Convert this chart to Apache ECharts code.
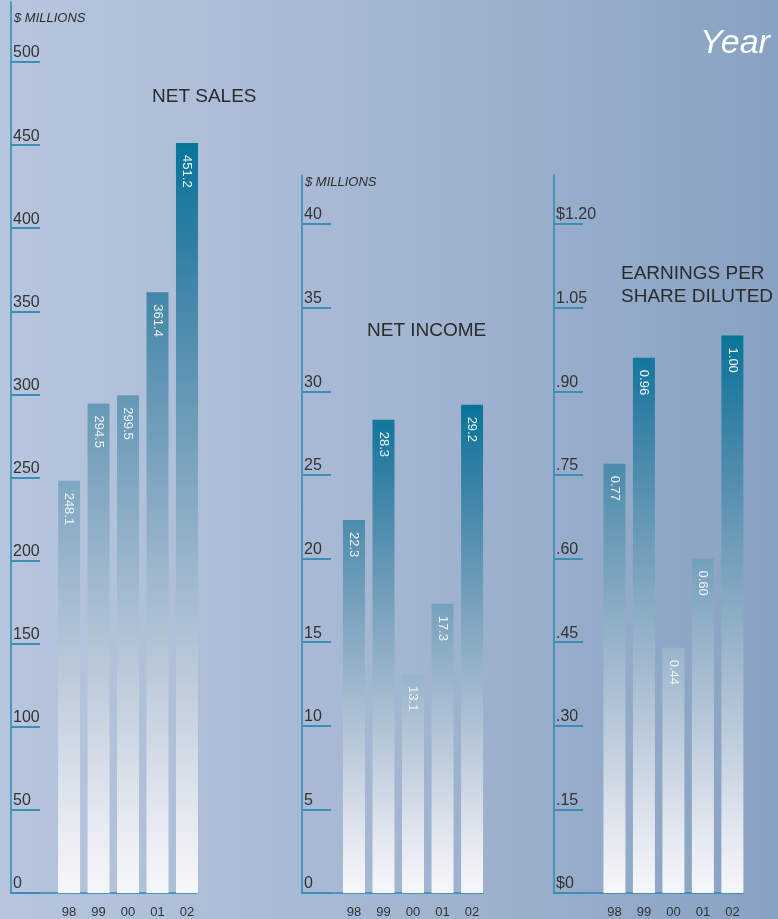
<!DOCTYPE html>
<html>
<head>
<meta charset="utf-8">
<script src="https://cdn.jsdelivr.net/npm/echarts@6/dist/echarts.min.js"></script>
<style>
  html, body { margin: 0; padding: 0; }
  #main {
    width: 778px; height: 919px;
    background: linear-gradient(to right, #b7c6de 0%, #a6b8d3 45%, #88a2c3 100%);
  }
</style>
</head>
<body>
<div id="main"></div>
<script>
// data
const years = ['98', '99', '00', '01', '02'];
const netSales = [248.1, 294.5, 299.5, 361.4, 451.2];
const netIncome = [22.3, 28.3, 13.1, 17.3, 29.2];
const eps = [0.77, 0.96, 0.44, 0.60, 1.00];

const salesTicks = [0, 50, 100, 150, 200, 250, 300, 350, 400, 450, 500];
const incomeTicks = [0, 5, 10, 15, 20, 25, 30, 35, 40];
const epsTicks = [0, 0.15, 0.30, 0.45, 0.60, 0.75, 0.90, 1.05, 1.20];
const epsTickLabels = ['$0', '.15', '.30', '.45', '.60', '.75', '.90', '1.05', '$1.20'];

// teal -> white ramp, index 0 = bottom, 10 = top of the tallest bar
const ramp = ['#f6f7fa', '#e5e9f0', '#cfd9e4', '#b9c9d9', '#a3bacf', '#8cadc6',
  '#74a0bc', '#5c93b2', '#4387a9', '#267ca1', '#077598'];

const AXIS = '#2a8ab2';
const TICK = '#3a8fba';
const TXT = '#333';
const FONT = '"Liberation Sans", Arial, sans-serif';

function barColor(v, max) {
  const r = v / max;
  const stops = [{offset: 0, color: echarts.color.lerp(r, ramp)}];
  for (let k = 10; k >= 0; k--) {
    const g = k / 10;
    if (g < r) stops.push({offset: 1 - g / r, color: ramp[k]});
  }
  return new echarts.graphic.LinearGradient(0, 0, 0, 1, stops);
}

function barData(values) {
  const max = Math.max(...values);
  return values.map((v, i) => ({value: [i, v], itemStyle: {color: barColor(v, max)}}));
}

function yAxis(idx, max, ticks, fmt) {
  return {
    type: 'value', gridIndex: idx, min: 0, max: max,
    axisLine: {show: true, onZero: false, lineStyle: {color: AXIS, width: 1.5}},
    axisTick: {show: true, inside: true, length: 29, customValues: ticks,
      lineStyle: {color: TICK, width: 2}},
    axisLabel: {inside: true, margin: 2, customValues: ticks, formatter: fmt,
      color: TXT, fontSize: 16, fontFamily: FONT,
      verticalAlign: 'bottom', lineHeight: 18},
    splitLine: {show: false}
  };
}

function xAxis(idx, min, max) {
  return {
    type: 'value', gridIndex: idx, min: min, max: max,
    axisLine: {show: true, onZero: false, lineStyle: {color: AXIS, width: 1.5}},
    axisTick: {show: false},
    axisLabel: {customValues: [0, 1, 2, 3, 4], formatter: v => years[v],
      color: TXT, fontSize: 13, fontFamily: FONT, margin: 13},
    splitLine: {show: false}
  };
}

function barSeries(idx, values, dec) {
  return {
    type: 'bar', xAxisIndex: idx, yAxisIndex: idx,
    barWidth: 22,
    data: barData(values),
    label: {
      show: true, position: 'insideTop', distance: 12, rotate: -90,
      align: 'left', verticalAlign: 'middle',
      color: '#eef3f7', fontSize: 13, fontFamily: FONT,
      formatter: p => p.value[1].toFixed(dec)
    }
  };
}

const titleBase = {padding: 0, textStyle: {color: '#2b2b2b', fontFamily: FONT, fontWeight: 'normal'}};
const t = (text, left, top, style) =>
  ({...titleBase, text, left, top, textStyle: {...titleBase.textStyle, ...style}});

const options = {
  animation: false,
  title: [
    t('$ MILLIONS', 14, 12, {fontSize: 13, fontStyle: 'italic'}),
    t('$ MILLIONS', 305, 176, {fontSize: 13, fontStyle: 'italic'}),
    t('NET SALES', 152, 87, {fontSize: 19}),
    t('NET INCOME', 367, 321, {fontSize: 19}),
    t('EARNINGS PER\nSHARE DILUTED', 621, 262, {fontSize: 19, lineHeight: 23}),
    t('Year in Review', 700, 27, {fontSize: 34, fontStyle: 'italic', color: '#fff',
      fontFamily: '"Liberation Sans Narrow", "Liberation Sans", sans-serif'})
  ],
  grid: [
    {left: 11, top: 2, width: 186, height: 891},
    {left: 302, top: 175, width: 181, height: 718},
    {left: 554, top: 175, width: 189, height: 718}
  ],
  xAxis: [
    xAxis(0, -1.97, 4.34),
    xAxis(1, -1.76, 4.37),
    xAxis(2, -2.05, 4.36)
  ],
  yAxis: [
    yAxis(0, 536.1, salesTicks, v => String(v)),
    yAxis(1, 42.93, incomeTicks, v => String(v)),
    yAxis(2, 1.288, epsTicks, v => epsTickLabels[epsTicks.findIndex(x => Math.abs(x - v) < 1e-6)])
  ],
  series: [
    barSeries(0, netSales, 1),
    barSeries(1, netIncome, 1),
    barSeries(2, eps, 2)
  ]
};

const myChart = echarts.init(document.getElementById('main'));
myChart.setOption(options);
</script>
</body>
</html>
